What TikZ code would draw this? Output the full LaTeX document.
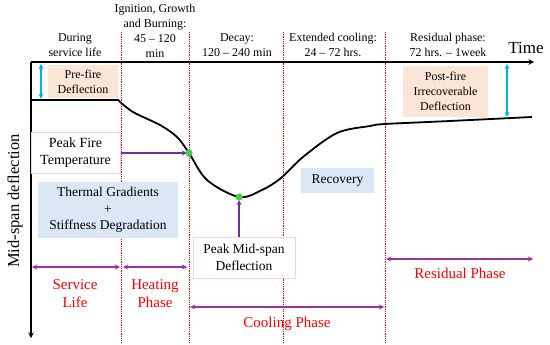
\documentclass[tikz,border=0pt]{standalone}
\usepackage{fontspec}
\setmainfont{Liberation Serif}
\usepackage{tikz}
\usetikzlibrary{arrows.meta,calc}

\definecolor{peach}{RGB}{251,229,214}
\definecolor{paleblue}{RGB}{218,232,245}
\definecolor{pinkline}{RGB}{245,205,238}
\definecolor{arrowblue}{RGB}{0,176,240}
\definecolor{darkpurple}{RGB}{112,48,160}
\definecolor{phasepurple}{RGB}{160,48,160}
\definecolor{dotgreen}{RGB}{70,205,70}

\begin{document}
\begin{tikzpicture}[x=1pt, y=-1pt, >=stealth,
    head/.style={align=center, font=\fontsize{12}{15}\selectfont},
    phasetext/.style={align=center, text=red, font=\fontsize{15}{18}\selectfont},
    boxtext/.style={align=center, inner sep=0pt, font=\fontsize{13.5}{16.5}\selectfont},
    divider/.style={red, densely dotted, line width=0.8pt},
    phasearrow/.style={<->, phasepurple, line width=1.3pt},
    bluearrow/.style={<->, arrowblue, line width=1.3pt}]
    \useasboundingbox (0,0) rectangle (550,345);

    % phase boundaries
    \foreach \x in {121,189,283,385}
        \draw[divider] (\x,32) -- (\x,343);

    % axes
    \coordinate (O) at (31,62);
    \coordinate (tEnd) at (534,62);
    \coordinate (dEnd) at (31,338);
    \draw[->, line width=1.4pt] (O) -- (tEnd);
    \draw[->, line width=1.4pt] (O) -- (dEnd);
    \node[font=\fontsize{17}{20}\selectfont] (timeLbl) at (526,48) {Time};
    \node[rotate=90, font=\fontsize{16.5}{19}\selectfont] (defLbl) at (15,201) {Mid-span deflection};

    % stage headers
    \node[head] (hService) at (75,45) {During\\service life};
    \node[head] (hHeat) at (155,31) {Ignition, Growth\\and Burning:\\45 -- 120\\min};
    \node[head] (hDecay) at (237,45) {Decay:\\120 -- 240 min};
    \node[head] (hCool) at (333,45) {Extended cooling:\\24 -- 72 hrs.};
    \node[head] (hResid) at (448,45) {Residual phase:\\72 hrs. -- 1week};

    % deflection history
    \coordinate (dotA) at (189,153);
    \coordinate (dotB) at (239,197);
    \draw[line width=1.8pt] (31,100) -- plot[smooth, tension=0.55] coordinates {(118,100) (133,112) (160,125) (177,137) (189,153) (207,180) (239,197) (262,190) (281,178) (303,157) (337,133) (370,126) (385,124) (450,121) (532,117)};

    % deflection boxes
    \node[fill=peach, minimum width=70, minimum height=33, head] (preFire) at (83,81.5) {Pre-fire\\Deflection};
    \draw[bluearrow] (41,64) -- (41,99);
    \node[fill=peach, minimum width=85, minimum height=51, head] (postFire) at (445.5,91.5) {Post-fire\\Irrecoverable\\Deflection};
    \draw[bluearrow] (507,64) -- (507,117);

    \node[boxtext, draw=pinkline, fill=white, minimum width=89, minimum height=41, font=\fontsize{14}{17.5}\selectfont] (peakTemp) at (75.5,152.5) {Peak Fire\\Temperature};
    \node[boxtext, fill=paleblue, minimum width=140, minimum height=56] (thermal) at (108,210) {Thermal Gradients\\+\\Stiffness Degradation};
    \node[boxtext, draw=pinkline, fill=white, minimum width=102, minimum height=41] (peakDef) at (244,257.5) {Peak Mid-span\\Deflection};
    \node[boxtext, fill=paleblue, minimum width=73, minimum height=25] (recovery) at (337.5,180.5) {Recovery};

    \draw[->, darkpurple, line width=1.3pt] (peakTemp.east |- dotA) ++(1,0) -- ($(dotA)+(-2,0)$);
    \draw[->, darkpurple, line width=1.3pt] (peakDef.north -| dotB) -- ($(dotB)+(0,3)$);
    \fill[dotgreen] (dotA) circle (3.6);
    \fill[dotgreen] (dotB) circle (3.6);

    % phases
    \draw[phasearrow] (32,267) -- (120,267);
    \node[phasetext] (service) at (75,294) {Service\\Life};
    \draw[phasearrow] (123,267) -- (187,267);
    \node[phasetext] (heating) at (155,294) {Heating\\Phase};
    \draw[phasearrow] (190,307) -- (384,307);
    \node[phasetext] (cooling) at (287,324) {Cooling Phase};
    \draw[phasearrow] (386,259) -- (533,259);
    \node[phasetext] (residual) at (460,273) {Residual Phase};
\end{tikzpicture}
\end{document}
